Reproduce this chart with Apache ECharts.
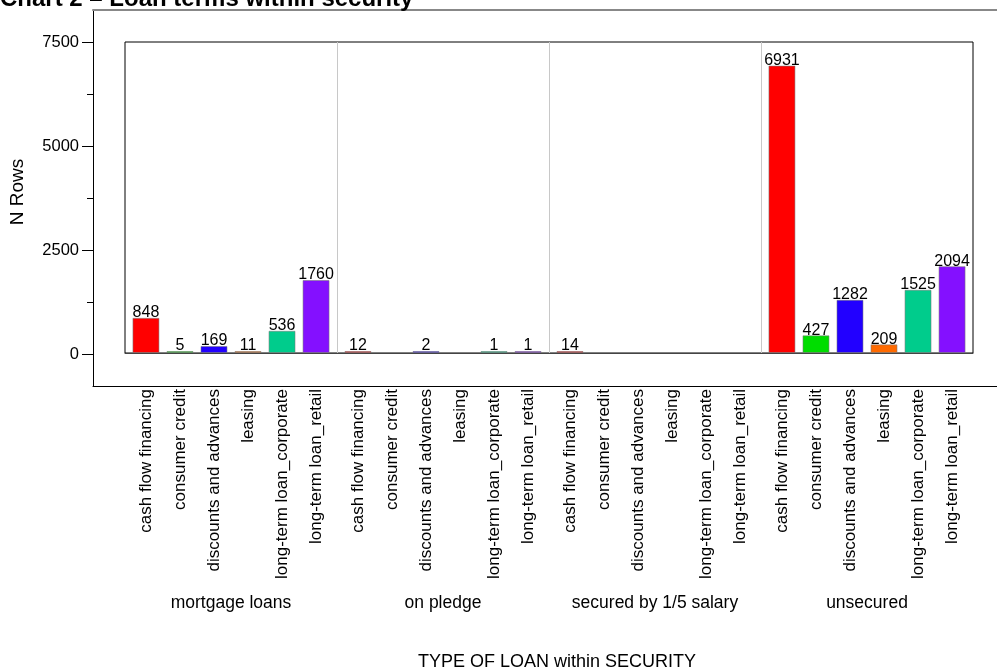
<!DOCTYPE html>
<html>
<head>
<meta charset="utf-8">
<script src="https://cdn.jsdelivr.net/npm/echarts@6/dist/echarts.min.js"></script>
<style>
html,body{margin:0;padding:0;background:#fff;}
#chart{width:997px;height:672px;}
</style>
</head>
<body>
<div id="chart"></div>
<script>
// ---- data ----
const groups = ['mortgage loans', 'on pledge', 'secured by 1/5 salary', 'unsecured'];
const loanTypes = ['cash flow financing', 'consumer credit', 'discounts and advances', 'leasing', 'long-term loan_corporate', 'long-term loan_retail'];
const mortgageLoans = [848, 5, 169, 11, 536, 1760];
const onPledge = [12, null, 2, null, 1, 1];
const securedBySalary = [14, null, null, null, null, null];
const unsecured = [6931, 427, 1282, 209, 1525, 2094];
const yTicks = [0, 2500, 5000, 7500];
const yMinorTicks = [1250, 3750, 6250];
const colors = ['#ff0000', '#00dd00', '#2200ff', '#ff6a00', '#00cc8c', '#8410ff'];

const groupValues = [mortgageLoans, onPledge, securedBySalary, unsecured];
const FONT = '"Liberation Sans", Arial, sans-serif';

// y range for the outer frame: 0..7500 spans 42..354 px, frame spans 10..386 px
const pxPerUnit = 312 / 7500;
const outerPad = 32 / pxPerUnit;

const chart = echarts.init(document.getElementById('chart'), null, {renderer: 'canvas'});

const valueSeries = loanTypes.map((t, i) => ({
  type: 'bar',
  name: t,
  xAxisIndex: 0,
  yAxisIndex: 0,
  data: groupValues.map(g => g[i]),
  barWidth: 27,
  barGap: '26%',
  barMinHeight: 2,
  itemStyle: {color: colors[i], borderColor: 'rgba(120,120,120,0.55)', borderWidth: 1},
  label: {show: true, position: 'top', distance: -3, fontSize: 16, color: '#000', fontFamily: FONT},
  z: 3
}));

const nameSeries = loanTypes.map((t, i) => ({
  type: 'bar',
  name: t,
  xAxisIndex: 1,
  yAxisIndex: 0,
  data: groups.map(() => 0),
  barWidth: 27,
  barGap: '26%',
  silent: true,
  itemStyle: {color: 'transparent'},
  label: {
    show: true, position: 'bottom', distance: 36, rotate: 90,
    align: 'right', verticalAlign: 'middle',
    formatter: '{a}', fontSize: 17, color: '#000', fontFamily: FONT
  }
}));

const option = {
  animation: false,
  backgroundColor: '#fff',
  textStyle: {fontFamily: FONT},
  title: [
    {text: 'Chart 2 \u2013 Loan terms within security', left: 0, top: -13, padding: 0,
     textStyle: {fontSize: 24, fontWeight: 'bold', color: '#000', fontFamily: FONT}}
  ],
  grid: [
    {left: 125, right: 24, top: 42, bottom: 318, show: true, borderColor: '#000', borderWidth: 1, backgroundColor: 'transparent'},
    {left: 92, right: 0, top: 10, bottom: 286}
  ],
  xAxis: [
    {type: 'category', gridIndex: 0, data: groups,
     axisLine: {show: true, lineStyle: {color: '#444'}},
     axisTick: {show: false},
     axisLabel: {interval: 0, hideOverlap: false, margin: 241, fontSize: 17.5, color: '#000', fontFamily: FONT},
     splitLine: {show: true, interval: 0, lineStyle: {color: ['transparent', '#c8c8c8', '#c8c8c8', '#c8c8c8', 'transparent']}},
     name: 'TYPE OF LOAN within SECURITY', nameLocation: 'middle', nameGap: 300,
     nameTextStyle: {fontSize: 18, color: '#000', fontFamily: FONT, verticalAlign: 'top', padding: [0, 0, 0, 16]}},
    {type: 'category', gridIndex: 0, data: groups, show: false},
    {type: 'value', gridIndex: 1, min: 0, max: 1,
     axisLine: {show: true, onZero: false, lineStyle: {color: '#000'}},
     axisTick: {show: false}, axisLabel: {show: false}, splitLine: {show: false}},
    {type: 'value', gridIndex: 1, min: 0, max: 1, position: 'top',
     axisLine: {show: true, onZero: false, lineStyle: {color: '#888', width: 2}},
     axisTick: {show: false}, axisLabel: {show: false}, splitLine: {show: false}}
  ],
  yAxis: [
    {type: 'value', gridIndex: 0, min: 0, max: 7500, show: false},
    {type: 'value', gridIndex: 1, position: 'left', min: -outerPad, max: 7500 + outerPad,
     axisLine: {show: true, onZero: false, lineStyle: {color: '#000'}},
     axisTick: {show: true, length: 11, customValues: yTicks, lineStyle: {color: '#000'}},
     axisLabel: {show: true, customValues: yTicks, fontSize: 16.5, margin: 14, color: '#000', fontFamily: FONT,
                 formatter: v => String(v)},
     splitLine: {show: false},
     name: 'N Rows', nameLocation: 'middle', nameGap: 66,
     nameTextStyle: {fontSize: 19, color: '#000', fontFamily: FONT, padding: [0, 0, 0, 12]}},
    {type: 'value', gridIndex: 1, position: 'left', min: -outerPad, max: 7500 + outerPad,
     axisLine: {show: false, onZero: false},
     axisTick: {show: true, length: 6, customValues: yMinorTicks, lineStyle: {color: '#000'}},
     axisLabel: {show: false}, splitLine: {show: false}}
  ],
  series: valueSeries.concat(nameSeries)
};

chart.setOption(option);
</script>
</body>
</html>
